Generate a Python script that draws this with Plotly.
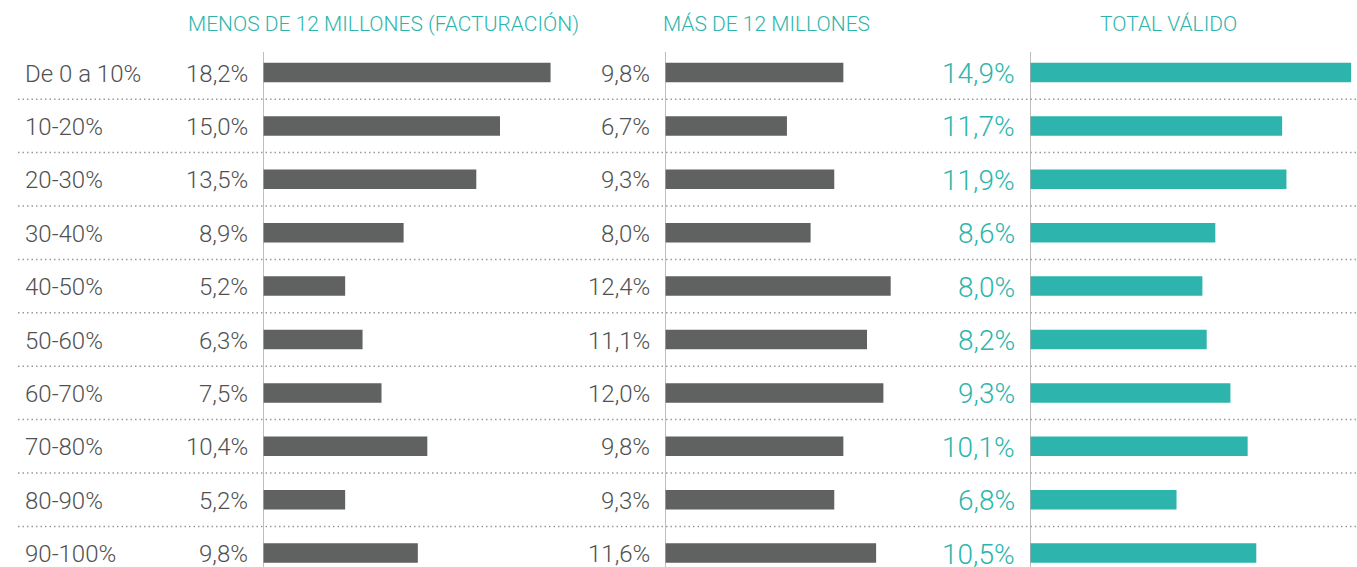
import plotly.graph_objects as go

categories = ["De 0 a 10%", "10-20%", "20-30%", "30-40%", "40-50%",
              "50-60%", "60-70%", "70-80%", "80-90%", "90-100%"]
menos_12 = [18.2, 15.0, 13.5, 8.9, 5.2, 6.3, 7.5, 10.4, 5.2, 9.8]
mas_12 = [9.8, 6.7, 9.3, 8.0, 12.4, 11.1, 12.0, 9.8, 9.3, 11.6]
total_valido = [14.9, 11.7, 11.9, 8.6, 8.0, 8.2, 9.3, 10.1, 6.8, 10.5]
headers = ["MENOS DE 12 MILLONES (FACTURACIÓN)", "MÁS DE 12 MILLONES", "TOTAL VÁLIDO"]

W, H = 1357, 567
FONT = "Roboto, sans-serif"
WEIGHT = 300
GRAY_BAR = "#606161"
TEAL = "#2DB5AD"
TXT = "#505152"

def fmt(v):
    return f"{v:.1f}".replace(".", ",") + "%"

# panel geometry in pixels: (baseline, right end, px per %)
panels = [
    (263, 600, 15.8, menos_12, GRAY_BAR, TXT, 24),
    (665, 1000, 18.2, mas_12, GRAY_BAR, TXT, 24),
    (1030, 1357, 21.55, total_valido, TEAL, TEAL, 28),
]

fig = go.Figure()
annotations = []
shapes = []
axis_names = ["x", "x2", "x3"]
layout_axes = {}
for k, (x0, x1, pxper, vals, col, tcol, fs) in enumerate(panels):
    xa = axis_names[k]
    fig.add_trace(go.Bar(
        x=vals, y=categories, orientation="h", xaxis=xa, yaxis="y",
        marker=dict(color=col, line=dict(width=0)), width=0.365,
        showlegend=False, hoverinfo="skip",
    ))
    key = "xaxis" if k == 0 else f"xaxis{k+1}"
    layout_axes[key] = dict(
        domain=[x0 / W, x1 / W], range=[0, (x1 - x0) / pxper],
        showgrid=False, zeroline=False, showticklabels=False, ticks="",
        showline=False, anchor="y", fixedrange=True,
    )
    for c, v in zip(categories, vals):
        annotations.append(dict(
            x=0, y=c, xref=xa, yref="y", text=fmt(v), showarrow=False,
            xanchor="right", yanchor="middle", xshift=-13, yshift=-1,
            font=dict(family=FONT, size=fs, color=tcol, weight=WEIGHT),
        ))
    shapes.append(dict(
        type="line", xref=xa, yref="paper", x0=0, x1=0, y0=0, y1=1 - 52 / H,
        line=dict(color="#A8A8A8", width=1.5), layer="above",
    ))

for c in categories:
    annotations.append(dict(
        x=23 / W, y=c, xref="paper", yref="y", text=c, showarrow=False,
        xanchor="left", yanchor="middle", yshift=-1,
        font=dict(family=FONT, size=24, color=TXT, weight=WEIGHT),
    ))

header_x = [383, 767, 1168]
for hx, ht in zip(header_x, headers):
    annotations.append(dict(
        x=hx / W, y=1 - 24 / H, xref="paper", yref="paper", text=ht,
        showarrow=False, xanchor="center", yanchor="middle",
        font=dict(family=FONT, size=21, color=TEAL, weight=WEIGHT),
    ))

for i in range(len(categories) - 1):
    shapes.append(dict(
        type="line", xref="paper", yref="y", x0=18 / W, x1=1,
        y0=i + 0.5, y1=i + 0.5,
        line=dict(color="#9A9A9A", width=1.5, dash="1.5px,3px"), layer="below",
    ))

# row i centred at pixel 72.5 + 53.4*i
top = (0 - 72.5) / 53.4
bot = (H - 72.5) / 53.4
fig.update_layout(
    width=W, height=H, margin=dict(l=0, r=0, t=0, b=0, pad=0),
    paper_bgcolor="white", plot_bgcolor="white",
    yaxis=dict(type="category", categoryarray=categories, range=[bot, top],
               showgrid=False, zeroline=False, showticklabels=False, ticks="",
               showline=False, domain=[0, 1], anchor="x", fixedrange=True),
    annotations=annotations, shapes=shapes, barmode="overlay",
    **layout_axes,
)

fig.write_html("out.html", config={"displayModeBar": False},
               post_script="document.body.style.margin='0';document.body.style.overflow='hidden';")
